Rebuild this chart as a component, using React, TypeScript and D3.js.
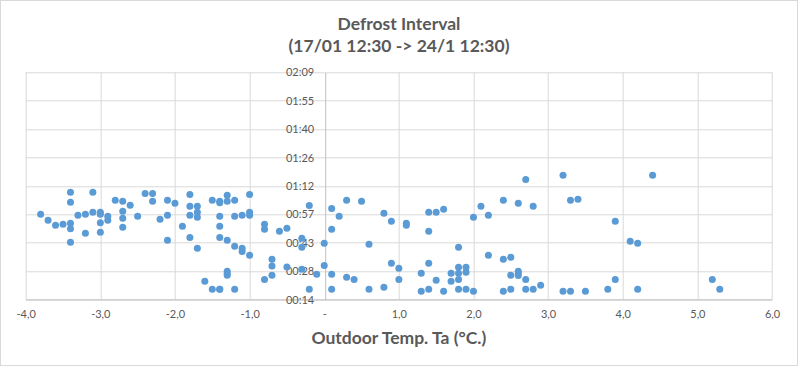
import React, { useRef, useEffect } from 'react';
import * as d3 from 'd3';

// outdoor temperature (°C) for each defrost
const temps = [
  -3.8, -3.7, -3.6, -3.5, -3.4, -3.4, -3.4, -3.4, -3.4, -3.3, -3.2, -3.2,
  -3.1, -3.1, -3.0, -3.0, -3.0, -3.0, -2.9, -2.9, -2.8, -2.7, -2.7, -2.7,
  -2.7, -2.6, -2.5, -2.4, -2.3, -2.3, -2.2, -2.1, -2.1, -2.1, -2.0, -1.9,
  -1.8, -1.8, -1.8, -1.8, -1.7, -1.7, -1.7, -1.7, -1.6, -1.5, -1.5, -1.4,
  -1.4, -1.4, -1.4, -1.4, -1.4, -1.4, -1.3, -1.3, -1.3, -1.3, -1.3, -1.3,
  -1.2, -1.2, -1.2, -1.2, -1.1, -1.1, -1.1, -1.0, -1.0, -1.0, -1.0, -0.8,
  -0.8, -0.8, -0.7, -0.7, -0.7, -0.6, -0.5, -0.5, -0.3, -0.3, -0.3, -0.2,
  -0.2, -0.1, 0.0, 0.0,
  0.1, 0.1, 0.1, 0.1, 0.2, 0.3, 0.3, 0.4, 0.5, 0.6, 0.6, 0.8, 0.8, 0.9,
  0.9, 1.0, 1.0, 1.1, 1.1, 1.3, 1.3, 1.4, 1.4, 1.4, 1.4, 1.5, 1.5, 1.6,
  1.6, 1.7, 1.7, 1.8, 1.8, 1.8, 1.8, 1.8, 1.9, 1.9, 1.9, 2.0, 2.0, 2.1,
  2.2, 2.2, 2.4, 2.4, 2.4, 2.5, 2.5, 2.5, 2.6, 2.6, 2.6, 2.6, 2.7, 2.7,
  2.7, 2.8, 2.8, 2.9, 3.2, 3.2, 3.3, 3.3, 3.4, 3.5, 3.8, 3.9, 3.9, 4.1,
  4.2, 4.2, 4.4, 5.2, 5.3,
];

// defrost interval in minutes
const intervals = [
  57.6, 54.6, 52.0, 52.5, 68.8, 63.7, 53.0, 50.3, 43.4, 57.1, 57.6, 48.0,
  68.8, 58.6, 58.6, 57.6, 53.3, 48.5, 56.6, 54.6, 64.7, 64.2, 59.1, 55.6,
  51.0, 62.2, 56.6, 68.2, 68.2, 64.2, 55.1, 64.7, 57.1, 44.4, 63.2, 51.5,
  67.7, 61.7, 57.1, 45.9, 61.7, 58.6, 56.1, 40.4, 23.6, 64.7, 19.6, 64.2,
  63.5, 56.6, 51.5, 45.9, 19.6, 19.6, 67.2, 64.2, 44.4, 28.7, 27.6, 26.7,
  64.7, 56.6, 41.4, 19.6, 57.1, 40.4, 38.8, 67.7, 58.6, 57.1, 36.8, 52.5,
  50.0, 24.6, 34.8, 31.4, 26.7, 49.0, 50.5, 30.9, 45.4, 40.9, 29.7, 62.0,
  19.6, 27.2, 42.9, 31.7,
  60.6, 50.0, 27.2, 19.6, 56.6, 64.7, 25.7, 24.6, 64.2, 42.4, 19.6, 58.1,
  20.6, 54.1, 32.8, 30.2, 24.6, 53.0, 52.0, 27.7, 18.6, 58.6, 49.0, 32.8,
  19.6, 58.6, 24.1, 60.1, 18.6, 27.7, 23.6, 40.9, 30.7, 27.7, 24.6, 19.6,
  30.7, 28.2, 19.6, 56.1, 18.6, 61.7, 57.1, 36.8, 64.7, 34.8, 18.6, 35.8,
  26.7, 19.6, 63.2, 28.7, 27.6, 26.6, 75.3, 24.6, 19.6, 61.7, 19.6, 21.6,
  77.4, 18.6, 64.7, 18.6, 65.2, 18.6, 19.6, 54.1, 24.6, 43.9, 42.9, 19.6,
  77.4, 24.6, 19.6,
];

const xTicks = [-4, -3, -2, -1, 0, 1, 2, 3, 4, 5, 6];
// y ticks every 0.01 day = 14.4 minutes
const yTicks = [14.4, 28.8, 43.2, 57.6, 72, 86.4, 100.8, 115.2, 129.6];

const titleLines = ['Defrost Interval', '(17/01 12:30 -> 24/1 12:30)'];
const xTitle = 'Outdoor Temp. Ta (°C.)';

const fmtTime = (m: number) => {
  const total = Math.floor(m + 1e-6);
  const h = Math.floor(total / 60);
  const mm = total % 60;
  return `${String(h).padStart(2, '0')}:${String(mm).padStart(2, '0')}`;
};

const fmtTemp = (v: number) => (v === 0 ? '-' : v.toFixed(1).replace('.', ','));

const DefrostChart = ({ width = 798, height = 366 }) => {
  const svgRef = useRef<SVGSVGElement>(null);

  useEffect(() => {
    const margin = { top: 72.3, right: 26, bottom: 66.5, left: 25.7 };
    const innerWidth = width - margin.left - margin.right;
    const innerHeight = height - margin.top - margin.bottom;
    const font = 'Lato, "Open Sans", sans-serif';
    const textColor = '#595959';

    const root = d3.select(svgRef.current);
    root.selectAll('*').remove();
    root.attr('width', width).attr('height', height);

    root.append('rect')
      .attr('x', 0.5).attr('y', 0.5)
      .attr('width', width - 1).attr('height', height - 1)
      .attr('fill', '#fff')
      .attr('stroke', '#d9d9d9');

    root.append('g')
      .selectAll('text')
      .data(titleLines)
      .enter()
      .append('text')
      .attr('x', width / 2)
      .attr('y', (d, i) => 30 + i * 22)
      .attr('text-anchor', 'middle')
      .attr('font-family', font)
      .attr('font-weight', 'bold')
      .attr('font-size', 17.5)
      .attr('fill', textColor)
      .text(d => d);

    const svg = root.append('g')
      .attr('transform', `translate(${margin.left},${margin.top})`);

    const x = d3.scaleLinear().domain([-4, 6]).range([0, innerWidth]);
    const y = d3.scaleLinear().domain([14.4, 129.6]).range([innerHeight, 0]);

    // grid
    svg.append('g')
      .selectAll('line')
      .data(yTicks)
      .enter()
      .append('line')
      .attr('x1', 0).attr('x2', innerWidth)
      .attr('y1', d => Math.round(y(d)) + 0.5).attr('y2', d => Math.round(y(d)) + 0.5)
      .attr('stroke', '#d9d9d9');

    svg.append('g')
      .selectAll('line')
      .data(xTicks.filter(d => d !== 0))
      .enter()
      .append('line')
      .attr('x1', d => Math.round(x(d)) + 0.5).attr('x2', d => Math.round(x(d)) + 0.5)
      .attr('y1', 0).attr('y2', innerHeight)
      .attr('stroke', '#d9d9d9');

    // axes
    const xAxis = svg.append('g')
      .attr('transform', `translate(0,${innerHeight})`)
      .call(d3.axisBottom(x).tickValues(xTicks).tickFormat(d => fmtTemp(+d)).tickSize(0).tickPadding(11));
    xAxis.select('.domain').attr('stroke', '#bfbfbf');

    const yAxis = svg.append('g')
      .attr('transform', `translate(${Math.round(x(0)) + 0.5},0)`)
      .call(d3.axisLeft(y).tickValues(yTicks).tickFormat(d => fmtTime(+d)).tickSize(0).tickPadding(11));
    yAxis.select('.domain').attr('stroke', '#bfbfbf');

    root.selectAll('.tick text')
      .attr('font-family', font)
      .attr('font-size', 11)
      .attr('fill', textColor);

    // points
    svg.append('g')
      .selectAll('circle')
      .data(temps.map((t, i) => ({ t, v: intervals[i] })))
      .enter()
      .append('circle')
      .attr('cx', d => x(d.t))
      .attr('cy', d => y(d.v))
      .attr('r', 3.5)
      .attr('fill', '#5b9bd5');

    root.append('text')
      .attr('x', margin.left + innerWidth / 2)
      .attr('y', 344)
      .attr('text-anchor', 'middle')
      .attr('font-family', font)
      .attr('font-weight', 'bold')
      .attr('font-size', 17.5)
      .attr('fill', textColor)
      .text(xTitle);
  }, [width, height]);

  return <svg ref={svgRef} style={{ position: 'absolute', left: 0, top: 0 }}></svg>;
};

export default function App() {
  return <DefrostChart />;
}
